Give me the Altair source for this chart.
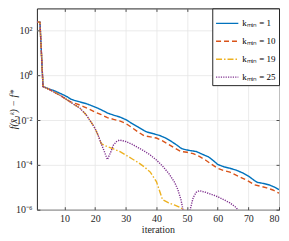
import altair as alt
import pandas as pd

# ---- data (iteration, f - f*) ----
series_names = ["kₘᵢₙ = 1", "kₘᵢₙ = 10", "kₘᵢₙ = 19", "kₘᵢₙ = 25"]
colors = ["#0072BD", "#D95319", "#EDB120", "#7E2F8E"]
dashes = [[1, 0], [5, 3], [6, 2, 1.5, 2], [1.2, 1.2]]

it_1 = [1, 2, 3, 5, 7, 9, 11, 12, 13, 15, 17, 19, 21, 23, 24, 26, 28, 30, 32, 34, 36, 37,
        39, 41, 43, 45, 47, 48, 49, 51, 53, 55, 57, 59, 60, 62, 64, 66, 68, 70, 72, 73,
        75, 77, 79, 80]
val_1 = [250, 240, 3.2e-1, 2.5e-1, 2.0e-1, 1.5e-1, 1.1e-1, 8.9e-2, 7.9e-2, 6.6e-2, 5.6e-2,
         4.4e-2, 3.4e-2, 2.5e-2, 2.1e-2, 1.7e-2, 1.4e-2, 1.07e-2, 7.2e-3, 5.0e-3, 3.4e-3,
         2.95e-3, 2.5e-3, 2.1e-3, 1.6e-3, 1.1e-3, 7.2e-4, 5.6e-4, 5.0e-4, 4.4e-4, 4.0e-4,
         3.0e-4, 2.3e-4, 1.4e-4, 1.05e-4, 8.3e-5, 7.1e-5, 5.9e-5, 4.5e-5, 3.2e-5, 2.0e-5,
         1.66e-5, 1.48e-5, 1.26e-5, 9.5e-6, 7.9e-6]

it_10 = [1, 2, 3, 5, 7, 9, 11, 12, 14, 16, 18, 20, 22, 24, 26, 28, 30, 32, 34, 36, 38, 40,
         42, 44, 46, 48, 50, 52, 54, 56, 58, 60, 62, 64, 66, 68, 70, 72, 74, 76, 78, 80]
val_10 = [250, 240, 3.2e-1, 2.4e-1, 1.7e-1, 1.2e-1, 7.9e-2, 6.6e-2, 5.4e-2, 4.2e-2, 3.2e-2,
          2.3e-2, 1.8e-2, 1.3e-2, 1.1e-2, 9.3e-3, 7.2e-3, 4.7e-3, 3.0e-3, 2.0e-3, 1.8e-3,
          1.6e-3, 1.2e-3, 8.3e-4, 5.6e-4, 4.0e-4, 3.7e-4, 3.2e-4, 2.4e-4, 1.66e-4, 1.07e-4,
          7.1e-5, 5.6e-5, 4.8e-5, 3.5e-5, 2.6e-5, 1.9e-5, 1.3e-5, 1.12e-5, 9.5e-6, 7.6e-6,
          5.5e-6]

it_19 = [1, 2, 3, 5, 7, 9, 11, 13, 15, 16, 17, 18, 19, 20, 21, 22, 24, 26, 28, 30, 32, 34,
         36, 38, 40, 42, 44, 46, 48, 50]
val_19 = [250, 240, 3.2e-1, 2.4e-1, 1.7e-1, 1.2e-1, 7.9e-2, 5.2e-2, 3.5e-2, 2.5e-2, 1.8e-2,
          1.12e-2, 7.1e-3, 4.2e-3, 2.1e-3, 8.9e-4, 6.6e-4, 5.2e-4, 4.0e-4, 2.8e-4, 1.9e-4,
          1.3e-4, 8.3e-5, 4.8e-5, 1.8e-5, 2.8e-6, 2.0e-6, 1.6e-6, 1.2e-6, 8.0e-7]

it_25 = [1, 2, 3, 5, 7, 9, 11, 13, 15, 16, 17, 18, 19, 20, 21, 22, 23, 24, 25, 26, 27, 28,
         30, 32, 34, 36, 38, 40, 42, 44, 46, 47, 48, 49, 50, 51, 52, 53, 54, 56, 58, 60, 62,
         64, 66, 68]
val_25 = [250, 240, 3.2e-1, 2.4e-1, 1.7e-1, 1.2e-1, 7.9e-2, 5.2e-2, 3.5e-2, 2.5e-2, 1.8e-2,
          1.12e-2, 7.1e-3, 4.2e-3, 2.1e-3, 8.9e-4, 4.0e-4, 1.75e-4, 3.5e-4, 7.9e-4, 1.12e-3,
          1.3e-3, 1.12e-3, 8.5e-4, 6.0e-4, 4.2e-4, 2.8e-4, 1.66e-4, 8.9e-5, 4.2e-5, 1.6e-5,
          7.9e-6, 2.8e-6, 6.3e-7, 1.0e-7, 1.0e-6, 3.5e-6, 6.0e-6, 7.1e-6, 6.0e-6, 4.8e-6,
          3.8e-6, 2.8e-6, 2.0e-6, 1.26e-6, 5.0e-7]

x_ticks = [10, 20, 30, 40, 50, 60, 70, 80]
y_ticks = [1e-6, 1e-4, 1e-2, 1, 1e2]

rows = []
for name, its, vals in zip(series_names, [it_1, it_10, it_19, it_25],
                           [val_1, val_10, val_19, val_25]):
    for i, v in zip(its, vals):
        rows.append({"series": name, "iteration": i, "value": v})
df = pd.DataFrame(rows)

font = "Liberation Serif"
axis_col = "#262626"

y_label_expr = ("datum.value > 10 ? '10²' : datum.value > 0.1 ? '10⁰' : "
                "datum.value > 0.001 ? '10⁻²' : datum.value > 0.00001 ? '10⁻⁴' : '10⁻⁶'")

xscale = alt.Scale(domain=[1, 80], nice=False, zero=False)
yscale = alt.Scale(type="log", domain=[1e-6, 1e3], nice=False)

lines = alt.Chart(df).mark_line(strokeWidth=1.4, clip=True).encode(
    x=alt.X("iteration:Q", scale=xscale,
            axis=alt.Axis(values=x_ticks, title="iteration", grid=True, domain=False,
                          tickSize=3, offset=-3, tickColor=axis_col, tickWidth=0.8,
                          labelPadding=4, titlePadding=1, format="d")),
    y=alt.Y("value:Q", scale=yscale,
            axis=alt.Axis(values=y_ticks, labelExpr=y_label_expr, title="f(x̄₁ᵏ) − f*",
                          grid=True, domain=False, tickSize=3, offset=-3,
                          tickColor=axis_col, tickWidth=0.8, labelPadding=5,
                          titleX=-31, titleBaseline="top")),
    color=alt.Color("series:N", scale=alt.Scale(domain=series_names, range=colors),
                    legend=alt.Legend(title=None)),
    strokeDash=alt.StrokeDash("series:N",
                              scale=alt.Scale(domain=series_names, range=dashes),
                              legend=alt.Legend(title=None)),
    order=alt.Order("iteration:Q"),
)

frame_ticks = alt.Chart(df).mark_point(opacity=0, clip=True).encode(
    x=alt.X("iteration:Q", scale=xscale,
            axis=alt.Axis(orient="top", values=x_ticks, title=None, labels=False,
                          grid=False, domain=False, tickSize=3, offset=-3,
                          tickColor=axis_col, tickWidth=0.8)),
    y=alt.Y("value:Q", scale=yscale,
            axis=alt.Axis(orient="right", values=y_ticks, title=None, labels=False,
                          grid=False, domain=False, tickSize=3, offset=-3,
                          tickColor=axis_col, tickWidth=0.8)),
)

chart = alt.layer(lines, frame_ticks).resolve_axis(
    x="independent", y="independent"
).properties(
    width=243, height=202,
    autosize=alt.AutoSizeParams(type="none"),
    padding={"left": 29, "top": 0, "right": 2, "bottom": 30},
).configure_view(
    stroke=axis_col, strokeWidth=1
).configure_axis(
    labelFont=font, titleFont=font, labelFontSize=10, titleFontSize=10,
    labelColor=axis_col, titleColor=axis_col, titleFontWeight="normal",
    gridColor="#e6e6e6", gridWidth=0.8,
).configure_axisY(
    titleFontStyle="italic"
).configure_legend(
    orient="top-right", offset=0, padding=3, strokeColor=axis_col, fillColor="white",
    labelFont=font, labelFontSize=9, labelColor="#000000", symbolType="stroke",
    symbolSize=500, symbolStrokeWidth=1.4, rowPadding=1, labelOffset=3, cornerRadius=0,
)

chart.save("out.html", embed_options={"renderer": "svg", "actions": False})
